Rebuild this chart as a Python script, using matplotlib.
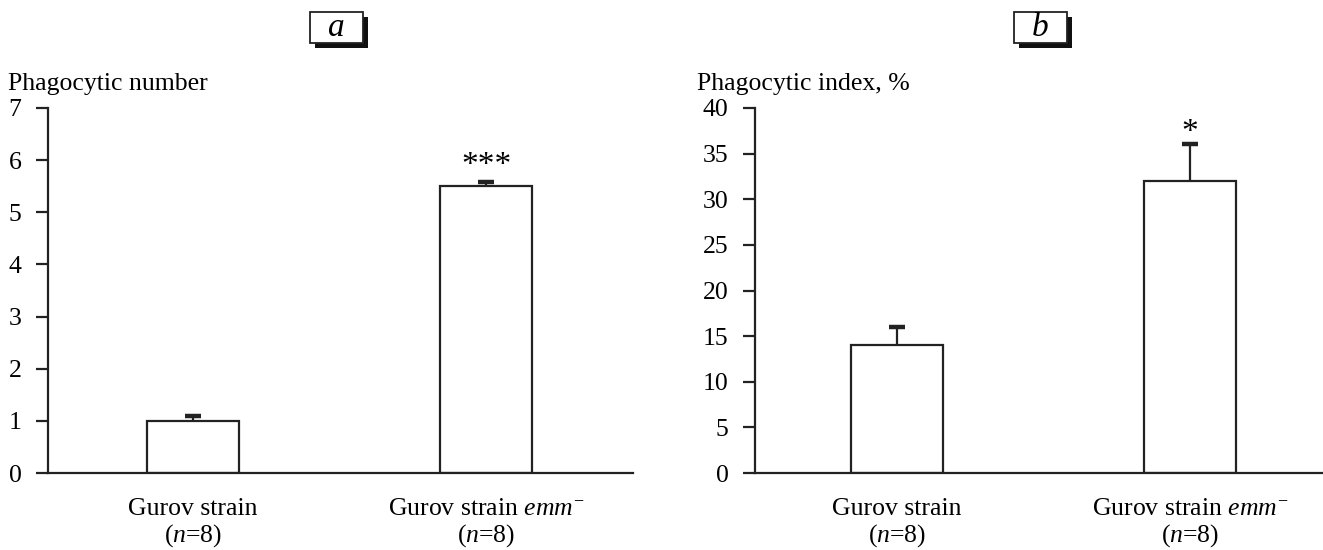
import matplotlib
matplotlib.use("Agg")
import matplotlib.pyplot as plt
from matplotlib.patches import Rectangle

plt.rcParams["font.family"] = ["Liberation Serif", "DejaVu Serif"]
plt.rcParams["mathtext.fontset"] = "custom"
plt.rcParams["mathtext.rm"] = "Liberation Serif"
plt.rcParams["mathtext.it"] = "Liberation Serif:italic"

# data
categories = ["Gurov strain\n($\\mathit{n}$=8)",
              "Gurov strain $\\mathit{emm}^{-}$\n($\\mathit{n}$=8)"]
number_vals = [1.0, 5.5]
number_err = [0.1, 0.09]
number_sig = ["", "***"]
index_vals = [14.0, 32.0]
index_err = [2.0, 4.0]
index_sig = ["", "*"]

W, H = 1323, 550
FS = 18.5
INK = "#222222"
fig = plt.figure(figsize=(W / 100, H / 100), dpi=100)

ax_a = fig.add_axes([48 / W, 1 - 473 / H, 585 / W, 365 / H])
ax_b = fig.add_axes([755 / W, 1 - 473 / H, 568 / W, 365 / H])


def panel(ax, vals, err, sig, ymax, ystep, ylabel, xlim, sig_off, ylab_x):
    x = list(range(len(vals)))
    tops = [v + e for v, e in zip(vals, err)]
    ax.bar(x, vals, width=0.314, color="white", edgecolor=INK,
           linewidth=1.6, zorder=2)
    # upper error bars only
    ax.vlines(x, vals, tops, color=INK, linewidth=1.6, zorder=1)
    ax.plot(x, tops, linestyle="none", marker="_", markersize=11,
            markeredgewidth=3.2, color=INK, zorder=1)
    for xi, t, s in zip(x, tops, sig):
        if s:
            ax.text(xi, t + sig_off, s, ha="center", va="center",
                    fontsize=24)
    ax.set_xlim(*xlim)
    ax.set_ylim(0, ymax)
    ax.set_yticks(range(0, ymax + 1, ystep))
    ax.set_xticks(x)
    ax.set_xticklabels(categories, fontsize=FS, linespacing=1.1)
    for sp in ["top", "right"]:
        ax.spines[sp].set_visible(False)
    for sp in ["left", "bottom"]:
        ax.spines[sp].set_linewidth(1.6)
        ax.spines[sp].set_color(INK)
    ax.tick_params(axis="y", direction="out", length=9, width=1.6,
                   labelsize=FS, pad=10, color=INK)
    ax.tick_params(axis="x", length=0, pad=18)
    ax.text(ylab_x, 1.035, ylabel, transform=ax.transAxes,
            ha="left", va="bottom", fontsize=FS)


panel(ax_a, number_vals, number_err, number_sig, 7, 1, "Phagocytic number",
      (-0.495, 1.50), 0.3, -40 / 585)
panel(ax_b, index_vals, index_err, index_sig, 40, 5, "Phagocytic index, %",
      (-0.485, 1.454), 1.3, -58 / 568)


def label_box(cx, letter):
    w, h, off = 53, 31, 5
    x0 = (cx - w / 2) / W
    y0 = 1 - (12 + h) / H
    fig.patches.append(Rectangle((x0 + off / W, y0 - off / H), w / W, h / H,
                                 transform=fig.transFigure,
                                 facecolor="#111111", edgecolor="none"))
    fig.patches.append(Rectangle((x0, y0), w / W, h / H,
                                 transform=fig.transFigure,
                                 facecolor="white", edgecolor=INK,
                                 linewidth=1.3))
    fig.text(cx / W, 1 - 28 / H, letter, ha="center", va="center",
             fontsize=24, style="italic")


label_box(336, "a")
label_box(1040, "b")

fig.savefig("out.png", dpi=100)
